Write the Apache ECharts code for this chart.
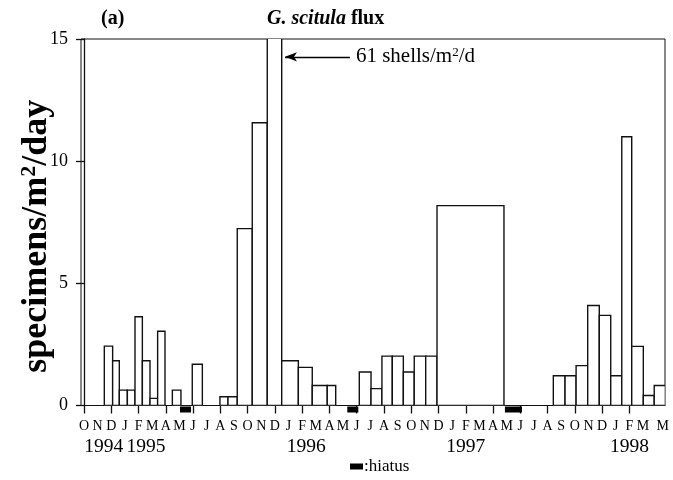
<!DOCTYPE html>
<html lang="en">
<head>
	<meta charset="UTF-8">
	<title>G. scitula flux</title>
	<style>
       html, body { margin: 0; padding: 0; background: #fff; }
       #chart_box { width: 673px; height: 480px; }
	</style>
	<script type="text/javascript" src="https://cdn.jsdelivr.net/npm/echarts@6/dist/echarts.min.js"></script>
</head>
<body>
	<div id="chart_box"></div>

	<script type="text/javascript">
      // x values are months counted from Oct 1994 (0 = O tick)
      var barStart = [1.49, 2.10, 2.59, 3.18, 3.74, 4.28, 4.84, 5.40, 6.48, 7.94,
                      9.97, 10.56, 11.24, 12.34, 13.44, 14.50, 15.72, 16.74, 17.84,
                      20.19, 21.05, 21.85, 22.61, 23.42, 24.22, 25.06, 25.89,
                      34.42, 35.28, 36.09, 36.94, 37.79, 38.63, 39.44, 40.17, 41.02, 41.82];
      var barEnd   = [2.10, 2.59, 3.18, 3.74, 4.28, 4.84, 5.40, 5.94, 7.11, 8.68,
                      10.56, 11.24, 12.34, 13.44, 14.50, 15.72, 16.74, 17.84, 18.46,
                      21.05, 21.85, 22.61, 23.42, 24.22, 25.06, 25.89, 30.80,
                      35.28, 36.09, 36.94, 37.79, 38.63, 39.44, 40.17, 41.02, 41.82, 42.64];
      var flux     = [2.43, 1.83, 0.63, 0.63, 3.63, 1.83, 0.29, 3.04, 0.63, 1.69,
                      0.36, 0.36, 7.24, 11.57, 61, 1.83, 1.56, 0.82, 0.82,
                      1.37, 0.69, 2.02, 2.02, 1.37, 2.02, 2.02, 8.18,
                      1.22, 1.22, 1.63, 4.09, 3.69, 1.22, 11.0, 2.42, 0.41, 0.82];

      var hiatusStart = [7.04, 19.31, 30.87];
      var hiatusEnd   = [7.85, 20.12, 32.12];

      var monthLetters = ['J', 'F', 'M', 'A', 'M', 'J', 'J', 'A', 'S', 'O', 'N', 'D'];
      var monthCount = 44;            // Oct 1994 .. May 1998
      var yearLabels = ['1994', '1995', '1996', '1997', '1998'];
      var yearPos    = [1.45, 4.55, 16.3, 28, 40];
      var yTicks     = [0, 5, 10, 15];

      var xMin = -0.22, xMax = 42.61;
      var serif = '"Liberation Serif", "Times New Roman", serif';

      var monthVals = [], monthText = {};
      for (var m = 0; m < monthCount; m++) {
          var v = Math.min(m, 42.45);
          monthVals.push(v);
          monthText[v] = monthLetters[(m + 9) % 12];
      }
      var tickVals = [];
      for (var t = 0; t < monthCount - 1; t += 2) tickVals.push(t);

      var barData = [], hiatusData = [];
      for (var i = 0; i < flux.length; i++) barData.push([barStart[i], barEnd[i], flux[i]]);
      for (var j = 0; j < hiatusStart.length; j++) hiatusData.push([hiatusStart[j], hiatusEnd[j], 0]);

      var chart = echarts.init(document.getElementById('chart_box'));

      var option = {
          animation: false,
          title: [
              { text: '(a)', left: 96, top: 4,
                textStyle: { fontFamily: serif, fontWeight: 'bold', fontSize: 20, color: '#000' } },
              { text: '{i|G. scitula} {b|flux}', left: 262, top: 4,
                textStyle: {
                    rich: {
                        i: { fontFamily: serif, fontWeight: 'bold', fontStyle: 'italic', fontSize: 20, color: '#000' },
                        b: { fontFamily: serif, fontWeight: 'bold', fontSize: 20, color: '#000' }
                    }
                } }
          ],
          legend: {
              data: ['hiatus'],
              left: 345, top: 453,
              icon: 'rect', itemWidth: 13, itemHeight: 6,
              formatter: function () { return ':hiatus'; },
              textStyle: { fontFamily: serif, fontSize: 17, color: '#000', padding: [0, 0, 0, -4] }
          },
          grid: { left: 81, right: 8, top: 39, bottom: 74.5, outerBoundsMode: 'none',
                  show: true, borderColor: '#111', borderWidth: 1 },
          xAxis: [
              {
                  type: 'value', min: xMin, max: xMax,
                  splitLine: { show: false },
                  axisLine: { lineStyle: { color: '#111', width: 1 } },
                  axisTick: { show: true, customValues: tickVals, length: 8, inside: false,
                              lineStyle: { color: '#111', width: 1.3 } },
                  axisLabel: { customValues: monthVals, margin: 14, showMaxLabel: true, hideOverlap: false,
                               fontFamily: serif, fontSize: 14, color: '#000',
                               formatter: function (v) { return monthText[v] || ''; } }
              },
              {
                  type: 'value', min: xMin, max: xMax, position: 'bottom',
                  splitLine: { show: false }, axisLine: { show: false }, axisTick: { show: false },
                  axisLabel: { customValues: yearPos, margin: 31,
                               fontFamily: serif, fontSize: 19.5, color: '#000',
                               formatter: function (v) { return yearLabels[yearPos.indexOf(v)] || ''; } }
              }
          ],
          yAxis: {
              type: 'value', min: 0, max: 15, interval: 5,
              name: '{a|specimens/m}{s|2}{a|/day}',
              nameLocation: 'middle', nameGap: 25, nameRotate: 90, nameMoveOverlap: false,
              nameTextStyle: {
                  padding: [0, 28, 0, 0],
                  rich: {
                      a: { fontFamily: serif, fontWeight: 'bold', fontSize: 36, color: '#000', lineHeight: 38 },
                      s: { fontFamily: serif, fontWeight: 'bold', fontSize: 22, color: '#000', lineHeight: 38,
                           verticalAlign: 'top', padding: [0, 0, 10, 0] }
                  }
              },
              splitLine: { show: false },
              axisLine: { show: true, lineStyle: { color: '#111', width: 1.3 } },
              axisTick: { show: true, length: 8, lineStyle: { color: '#111', width: 1.3 } },
              axisLabel: { fontFamily: serif, fontSize: 18, color: '#000', margin: 13,
                           formatter: function (v) { return yTicks.indexOf(v) >= 0 ? String(v) : ''; } }
          },
          series: [
              {
                  name: 'flux', type: 'custom', clip: true,
                  encode: { x: [0, 1], y: 2 },
                  data: barData,
                  renderItem: function (params, api) {
                      var p0 = api.coord([api.value(0), 0]);
                      var p1 = api.coord([api.value(1), api.value(2)]);
                      return {
                          type: 'rect',
                          shape: { x: p0[0], y: p1[1], width: p1[0] - p0[0], height: p0[1] - p1[1] },
                          style: { fill: '#fff', stroke: '#111', lineWidth: 1.4 }
                      };
                  },
                  markLine: {
                      silent: true,
                      symbol: ['arrow', 'none'], symbolSize: [7, 12],
                      lineStyle: { color: '#000', width: 1.3, type: 'solid' },
                      label: { show: true, position: 'end', distance: 6,
                               formatter: '{t|61 shells/m}{u|2}{t|/d}',
                               rich: {
                                   t: { fontFamily: serif, fontSize: 21, color: '#000', lineHeight: 22 },
                                   u: { fontFamily: serif, fontSize: 13, color: '#000', lineHeight: 22,
                                        verticalAlign: 'top', padding: [0, 0, 6, 0] }
                               } },
                      data: [[{ coord: [14.74, 14.27] }, { coord: [19.5, 14.27] }]]
                  }
              },
              {
                  name: 'hiatus', type: 'custom', clip: false,
                  itemStyle: { color: '#000' },
                  encode: { x: [0, 1], y: 2 },
                  data: hiatusData,
                  renderItem: function (params, api) {
                      var p0 = api.coord([api.value(0), 0]);
                      var p1 = api.coord([api.value(1), 0]);
                      return {
                          type: 'rect',
                          shape: { x: p0[0], y: p0[1] + 1, width: p1[0] - p0[0], height: 6 },
                          style: { fill: '#000' }
                      };
                  }
              }
          ]
      };
      chart.setOption(option);
	</script>
</body>
</html>
